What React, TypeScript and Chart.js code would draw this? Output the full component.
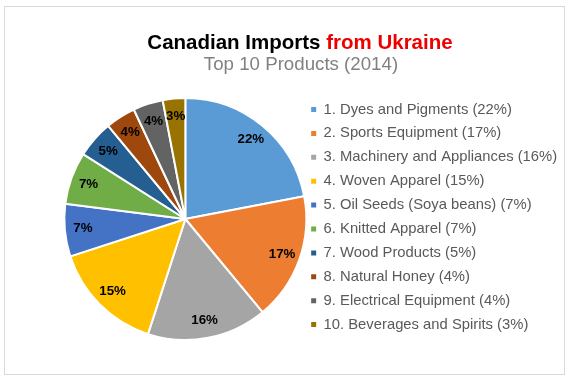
import React, { useEffect, useRef } from "react";
import { Chart, registerables } from "chart.js";

Chart.register(...registerables);

const categories = [
  "Dyes and Pigments",
  "Sports Equipment",
  "Machinery and Appliances",
  "Woven Apparel",
  "Oil Seeds (Soya beans)",
  "Knitted Apparel",
  "Wood Products",
  "Natural Honey",
  "Electrical Equipment",
  "Beverages and Spirits",
];
const shares = [22, 17, 16, 15, 7, 7, 5, 4, 4, 3];
const colors = [
  "#5B9BD5",
  "#ED7D31",
  "#A5A5A5",
  "#FFC000",
  "#4472C4",
  "#70AD47",
  "#255E91",
  "#9E480E",
  "#636363",
  "#997300",
];
const titleMain = "Canadian Imports ";
const titleAccent = "from Ukraine";
const subtitleText = "Top 10 Products (2014)";

const FONT = "'Liberation Sans', Arial, sans-serif";

const frameAndTitle = {
  id: "frameAndTitle",
  beforeDraw(chart: any) {
    const { ctx, width, height } = chart;
    ctx.save();
    ctx.fillStyle = "#ffffff";
    ctx.fillRect(0, 0, width, height);
    ctx.strokeStyle = "#D9D9D9";
    ctx.lineWidth = 1;
    ctx.strokeRect(4.5, 6.5, 560, 368);
    ctx.restore();
  },
  afterDraw(chart: any) {
    const { ctx } = chart;
    ctx.save();
    ctx.textBaseline = "alphabetic";
    ctx.textAlign = "left";
    ctx.font = `bold 20.5px ${FONT}`;
    const w1 = ctx.measureText(titleMain).width;
    const w2 = ctx.measureText(titleAccent).width;
    const x0 = 300 - (w1 + w2) / 2;
    ctx.fillStyle = "#000000";
    ctx.fillText(titleMain, x0, 48.5);
    ctx.fillStyle = "#EE0000";
    ctx.fillText(titleAccent, x0 + w1, 48.5);
    ctx.font = `18.7px ${FONT}`;
    ctx.fillStyle = "#808080";
    ctx.textAlign = "center";
    ctx.fillText(subtitleText, 301, 70);
    ctx.restore();
  },
};

const sliceLabels = {
  id: "sliceLabels",
  afterDatasetsDraw(chart: any) {
    const { ctx } = chart;
    const meta = chart.getDatasetMeta(0);
    const values = chart.data.datasets[0].data as number[];
    ctx.save();
    ctx.font = `bold 13.3px ${FONT}`;
    ctx.fillStyle = "#000000";
    ctx.textAlign = "center";
    ctx.textBaseline = "middle";
    meta.data.forEach((arc: any, i: number) => {
      const p = arc.getProps(["x", "y", "startAngle", "endAngle", "outerRadius"], true);
      const mid = (p.startAngle + p.endAngle) / 2;
      const r = p.outerRadius * 0.85;
      ctx.fillText(`${values[i]}%`, p.x + Math.cos(mid) * r, p.y + Math.sin(mid) * r);
    });
    ctx.restore();
  },
};

export default function App() {
  const canvasRef = useRef<HTMLCanvasElement | null>(null);

  useEffect(() => {
    if (!canvasRef.current) return;
    Chart.defaults.font.family = FONT;
    const chart = new Chart(canvasRef.current, {
      type: "pie",
      data: {
        labels: categories.map((c, i) => `${i + 1}. ${c} (${shares[i]}%)`),
        datasets: [
          {
            data: shares,
            backgroundColor: colors,
            borderColor: "#ffffff",
            borderWidth: 2,
            radius: 121,
            clip: false,
          } as any,
        ],
      },
      options: {
        responsive: false,
        animation: false,
        devicePixelRatio: 1,
        layout: {
          padding: { left: 68.6, right: 2.85, top: 93, bottom: 35 },
        },
        plugins: {
          title: { display: false },
          tooltip: { enabled: false },
          legend: {
            display: true,
            position: "right",
            align: "start",
            maxWidth: 320,
            labels: {
              boxWidth: 5,
              boxHeight: 5,
              padding: 9.1,
              color: "#595959",
              font: { size: 14.8, family: FONT },
              generateLabels(chart: any) {
                const base = (Chart as any).overrides.pie.plugins.legend.labels.generateLabels(chart);
                return base.map((item: any) => ({ ...item, lineWidth: 0, strokeStyle: "rgba(0,0,0,0)" }));
              },
            },
          },
        },
      },
      plugins: [frameAndTitle, sliceLabels],
    });
    return () => chart.destroy();
  }, []);

  return (
    <div style={{ position: "fixed", left: 0, top: 0, width: 570, height: 380, background: "#fff" }}>
      <canvas ref={canvasRef} width={570} height={380} style={{ display: "block" }} />
    </div>
  );
}
